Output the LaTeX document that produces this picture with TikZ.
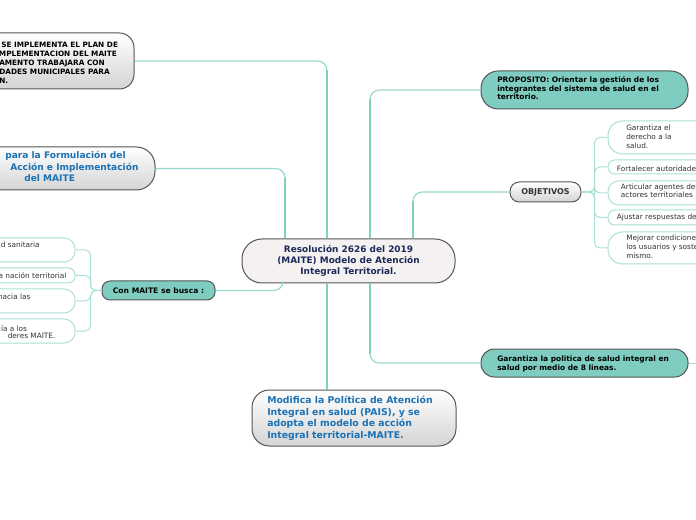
\documentclass[tikz,border=0pt]{standalone}
\usepackage{fontspec}
\setmainfont{DejaVu Sans}
\usetikzlibrary{calc}
\definecolor{tealfill}{HTML}{7ECDC0}
\definecolor{connc}{HTML}{97D9CF}
\definecolor{trunkc}{HTML}{80CFC3}
\definecolor{subc}{HTML}{ABE0D8}
\definecolor{navy}{HTML}{1B2A58}
\definecolor{blueT}{HTML}{1A72B5}
\definecolor{bord}{HTML}{555555}
\definecolor{gbot}{HTML}{D4D4D4}
\definecolor{cfill}{HTML}{F5F1F1}
\definecolor{txt}{HTML}{333333}
\begin{document}
\begin{tikzpicture}[x=0.75pt,y=-0.75pt,
  box/.style={draw=bord, line width=0.75pt, rectangle, inner sep=0pt},
  grad/.style={box, top color=white, bottom color=gbot},
  tealbox/.style={box, fill=tealfill},
  wbox/.style={draw=subc, line width=0.75pt, fill=white, rectangle, inner sep=0pt},
  conn/.style={draw=connc, line width=0.9pt, rounded corners=7pt},
  trunk/.style={draw=trunkc, line width=1.8pt},
  subconn/.style={draw=subc, line width=0.75pt, rounded corners=4pt},
  tl/.style={inner sep=0pt, font=\fontsize{5.5}{6}\selectfont\bfseries, text=black},
  fm/.style={inner sep=0pt, font=\fontsize{6.8}{7}\selectfont\bfseries, text=blueT},
  md/.style={inner sep=0pt, font=\fontsize{7}{8}\selectfont\bfseries, text=blueT},
  pr/.style={inner sep=0pt, font=\fontsize{5.6}{6}\selectfont\bfseries, text=black},
  lt/.style={inner sep=0pt, font=\fontsize{5.5}{6}\selectfont, text=txt},
]
\useasboundingbox (0,0) rectangle (696,520);
\clip (0,0) rectangle (696,520);

% ---------- nodes ----------
\node[box, fill=cfill, rounded corners=15pt, minimum width=159.75pt, minimum height=33pt,
      align=center, text=navy, font=\fontsize{6.7}{8.25}\selectfont\bfseries] (c) at (348.5,261)
      {Resolución 2626 del 2019\\(MAITE) Modelo de Atención\\Integral Territorial.};

\node[grad, rounded corners=11pt, minimum width=145.5pt, minimum height=42pt] (tlb) at (37,61) {};
\node[grad, rounded corners=14pt, minimum width=153.75pt, minimum height=32.25pt] (form) at (52.5,168.5) {};
\node[tealbox, rounded corners=6pt, minimum width=84.75pt, minimum height=14.25pt,
      font=\fontsize{5.7}{6}\selectfont\bfseries] (con) at (158.5,290.5) {Con MAITE se busca :};

\node[wbox, rounded corners=8pt, minimum width=101.25pt, minimum height=18pt] (la) at (7.5,250) {};
\node[wbox, rounded corners=5pt, minimum width=101.25pt, minimum height=11.25pt] (lb) at (7.5,275.5) {};
\node[wbox, rounded corners=8pt, minimum width=101.25pt, minimum height=18pt] (lc) at (7.5,301) {};
\node[wbox, rounded corners=8pt, minimum width=101.25pt, minimum height=18pt] (ld) at (7.5,331) {};

\node[grad, rounded corners=13pt, minimum width=153pt, minimum height=42pt] (mod) at (354,418) {};

\node[tealbox, rounded corners=13pt, minimum width=155.25pt, minimum height=28.5pt] (prop) at (584.5,90) {};
\node[grad, rounded corners=7pt, minimum width=53.25pt, minimum height=15pt, text=txt,
      font=\fontsize{6}{6}\selectfont\bfseries] (obj) at (545.5,192) {OBJETIVOS};
\node[tealbox, rounded corners=10pt, minimum width=155.25pt, minimum height=21pt] (gar) at (584.5,363) {};

\node[wbox, rounded corners=11pt, minimum width=114pt, minimum height=24.75pt] (g1) at (684,137.5) {};
\node[wbox, rounded corners=5pt, minimum width=114pt, minimum height=10.5pt] (g2) at (684,167) {};
\node[wbox, rounded corners=8pt, minimum width=114pt, minimum height=18pt] (g3) at (684,193) {};
\node[wbox, rounded corners=5pt, minimum width=114pt, minimum height=11.25pt] (g4) at (684,217.5) {};
\node[wbox, rounded corners=11pt, minimum width=114pt, minimum height=24pt] (g5) at (684,248) {};

% ---------- texts ----------
\node[tl, anchor=base west] (tl1) at (1,47.5) {SE IMPLEMENTA EL PLAN DE};
\node[tl, anchor=base west] (tl2) at (-4,56.5) {IMPLEMENTACION DEL MAITE};
\node[tl, anchor=base west] (tl3) at (-1,65.5) {AMENTO TRABAJARA CON};
\node[tl, anchor=base west] (tl4) at (-1,74.5) {DADES MUNICIPALES PARA};
\node[tl, anchor=base west] (tl5) at (-1,84) {N.};

\node[fm, anchor=base west] (fm1) at (5,158.5) {para la Formulación del};
\node[fm, anchor=base west] (fm2) at (10,170.5) {Acción e Implementación};
\node[fm, anchor=base west] (fm3) at (24,182) {del MAITE};

\node[lt, anchor=base east] (lt1) at (40,248) {d sanitaria};
\node[lt, anchor=base east] (lt2) at (66.7,278.5) {a nación territorial};
\node[lt, anchor=base east] (lt3) at (30.7,299.5) {hacia las};
\node[lt, anchor=base east] (lt4) at (27.3,331) {ía a los};
\node[lt, anchor=base east] (lt5) at (55.7,339) {deres MAITE.};

\node[md, anchor=base west] (md1) at (267,403.5) {Modifica la Política de Atención};
\node[md, anchor=base west] (md2) at (267,415.2) {Integral en salud (PAIS), y se};
\node[md, anchor=base west] (md3) at (267,426.9) {adopta el modelo de acción};
\node[md, anchor=base west] (md4) at (267,438.5) {Integral territorial-MAITE.};

\node[pr, anchor=base west] (pr1) at (497,83) {PROPOSITO: Orientar la gestión de los};
\node[pr, anchor=base west] (pr2) at (497,91.5) {integrantes del sistema de salud en el};
\node[pr, anchor=base west] (pr3) at (497,100) {territorio.};

\node[pr, anchor=base west] (ga1) at (497,361) {Garantiza la politica de salud integral en};
\node[pr, anchor=base west] (ga2) at (497,370) {salud por medio de 8 lineas.};

\node[lt, anchor=base west] (o11) at (626,131) {Garantiza el};
\node[lt, anchor=base west] (o12) at (626,140) {derecho a la};
\node[lt, anchor=base west] (o13) at (626,149) {salud.};
\node[lt, anchor=base west] (o21) at (616.7,172) {Fortalecer autoridades};
\node[lt, anchor=base west] (o31) at (620.7,189.5) {Articular agentes del};
\node[lt, anchor=base west] (o32) at (620.7,198) {actores territoriales};
\node[lt, anchor=base west] (o41) at (616.7,220) {Ajustar respuestas del};
\node[lt, anchor=base west] (o51) at (626,241) {Mejorar condiciones};
\node[lt, anchor=base west] (o52) at (626,250) {los usuarios y sostener};
\node[lt, anchor=base west] (o53) at (626,258.5) {mismo.};

% ---------- connectors ----------
\draw[conn] (tlb.east) -| ($(c.north)+(-21.5,0)$);
\draw[conn] (form.east) -| ($(c.north)+(-63.5,0)$);
\draw[conn] (con.east) -| ($(c.south)+(-65.5,0)$);
\draw[conn] (prop.west) -| ($(c.north)+(21.5,0)$);
\draw[conn] (obj.west) -| ($(c.north)+(64.5,0)$);
\draw[conn] (gar.west) -| ($(c.south)+(21.5,0)$);
\draw[trunk] ($(c.south)+(-21.5,0)$) -- ($(mod.north)+(-27,0)$);
\coordinate (garout) at (700,363);
\draw[subconn] (gar.east) -- (garout);
% thicker trunks
\draw[trunk] (327,238.5) -- (327,70);
\draw[trunk] (285,238.5) -- (285,178);
\draw[trunk] (370,238.5) -- (370,99);
\draw[trunk] (370,283.5) -- (370,354);
\draw[trunk] (413,238.5) -- (413,201);

\draw[subconn] (con.west) -- ++(-11,0) |- (la.east);
\draw[subconn] (con.west) -- ++(-11,0) |- (lb.east);
\draw[subconn] (con.west) -- ++(-11,0) |- (lc.east);
\draw[subconn] (con.west) -- ++(-11,0) |- (ld.east);

\draw[subconn] (obj.east) -- ++(13,0) |- (g1.west);
\draw[subconn] (obj.east) -- ++(13,0) |- (g2.west);
\draw[subconn] (obj.east) -- ++(13,0) |- (g3.west);
\draw[subconn] (obj.east) -- ++(13,0) |- (g4.west);
\draw[subconn] (obj.east) -- ++(13,0) |- (g5.west);
\end{tikzpicture}
\end{document}
